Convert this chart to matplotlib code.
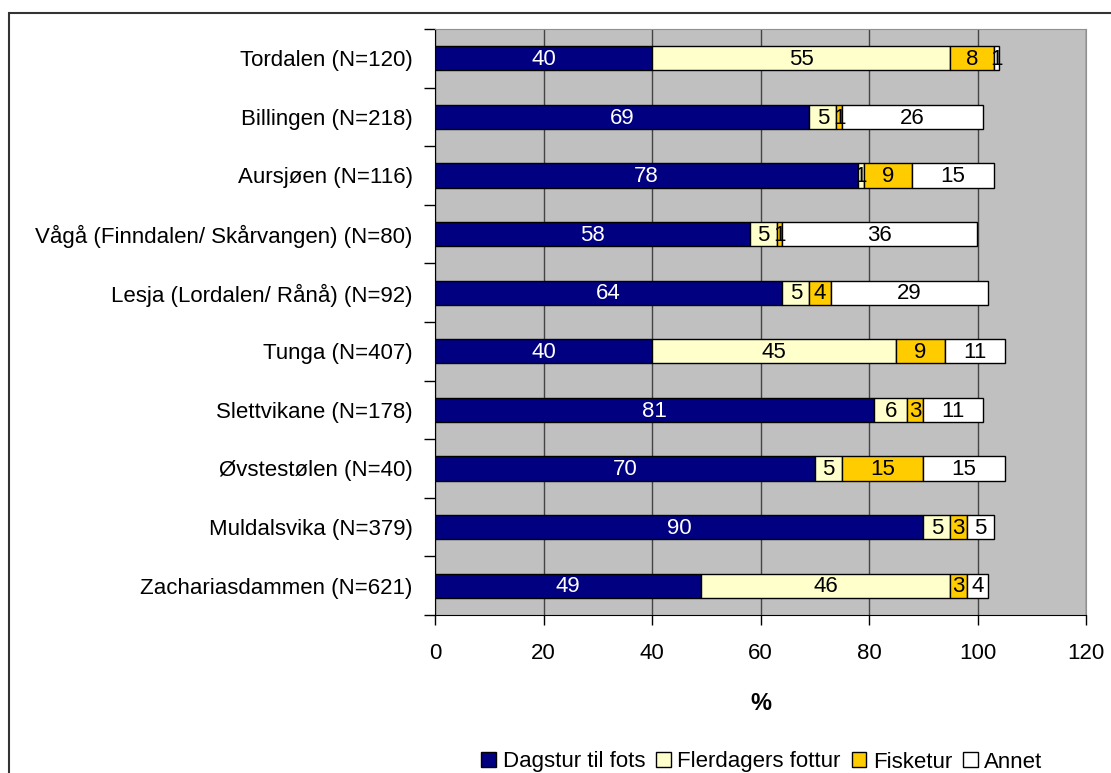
import matplotlib.pyplot as plt
from matplotlib.patches import Rectangle
import numpy as np

plt.rcParams['font.family'] = ['Liberation Sans', 'DejaVu Sans']

# categories top to bottom
places = ['Tordalen (N=120)', 'Billingen (N=218)', 'Aursjøen (N=116)',
          'Vågå (Finndalen/ Skårvangen) (N=80)', 'Lesja (Lordalen/ Rånå) (N=92)',
          'Tunga (N=407)', 'Slettvikane (N=178)', 'Øvstestølen (N=40)',
          'Muldalsvika (N=379)', 'Zachariasdammen (N=621)']

dagstur = [40, 69, 78, 58, 64, 40, 81, 70, 90, 49]
flerdagers = [55, 5, 1, 5, 5, 45, 6, 5, 5, 46]
fisketur = [8, 1, 9, 1, 4, 9, 3, 15, 3, 3]
annet = [1, 26, 15, 36, 29, 11, 11, 15, 5, 4]

series = [('Dagstur til fots', dagstur, '#000080', 'white'),
          ('Flerdagers fottur', flerdagers, '#FFFFCC', 'black'),
          ('Fisketur', fisketur, '#FFCC00', 'black'),
          ('Annet', annet, '#FFFFFF', 'black')]

fs = 16

fig = plt.figure(figsize=(11.11, 7.73), dpi=100)
ax = fig.add_axes([435 / 1111, 1 - 615 / 773, 651 / 1111, 586 / 773])

# outer chart border
fig.patches.append(Rectangle((9 / 1111, -0.1), 1.2, 1 - 13 / 773 + 0.1,
                             transform=fig.transFigure, fill=False,
                             edgecolor='#333333', linewidth=1.5))

ax.set_facecolor('#C0C0C0')
ypos = np.arange(len(places))
left = np.zeros(len(places))
for name, vals, color, tcolor in series:
    vals = np.array(vals, dtype=float)
    bars = ax.barh(ypos, vals, left=left, height=0.41, color=color,
                   edgecolor='black', linewidth=1, label=name, zorder=3)
    for b, v, l in zip(bars, vals, left):
        ax.text(l + v / 2, b.get_y() + b.get_height() / 2 + 0.02, f'{int(v)}',
                ha='center', va='center', color=tcolor, fontsize=fs, zorder=4)
    left += vals

ax.set_xlim(0, 120)
ax.set_ylim(len(places) - 0.5, -0.5)
ax.set_xticks(range(0, 121, 20))
ax.set_yticks(ypos)
ax.set_yticklabels(places)
ax.set_yticks(np.arange(-0.5, len(places), 1), minor=True)
ax.tick_params(axis='y', which='major', length=0, pad=16, labelsize=fs)
ax.tick_params(axis='y', which='minor', length=8, width=1, direction='out')
ax.tick_params(axis='x', length=7, width=1, pad=13, labelsize=fs)
ax.xaxis.grid(True, color='#444444', linewidth=1, zorder=1)
ax.set_axisbelow(True)
ax.spines['left'].set_color('black')
ax.spines['bottom'].set_color('black')
ax.spines['top'].set_color('#909090')
ax.spines['right'].set_color('#909090')
ax.set_xlabel('%', fontsize=fs + 1, fontweight='bold', labelpad=20)

ax.legend(loc='center', bbox_to_anchor=(762 / 1111, 1 - 762 / 773),
          bbox_transform=fig.transFigure, ncol=4, frameon=False, fontsize=fs,
          handlelength=0.65, handleheight=0.65, handletextpad=0.3,
          columnspacing=0.5)

fig.savefig('out.png', dpi=100)
